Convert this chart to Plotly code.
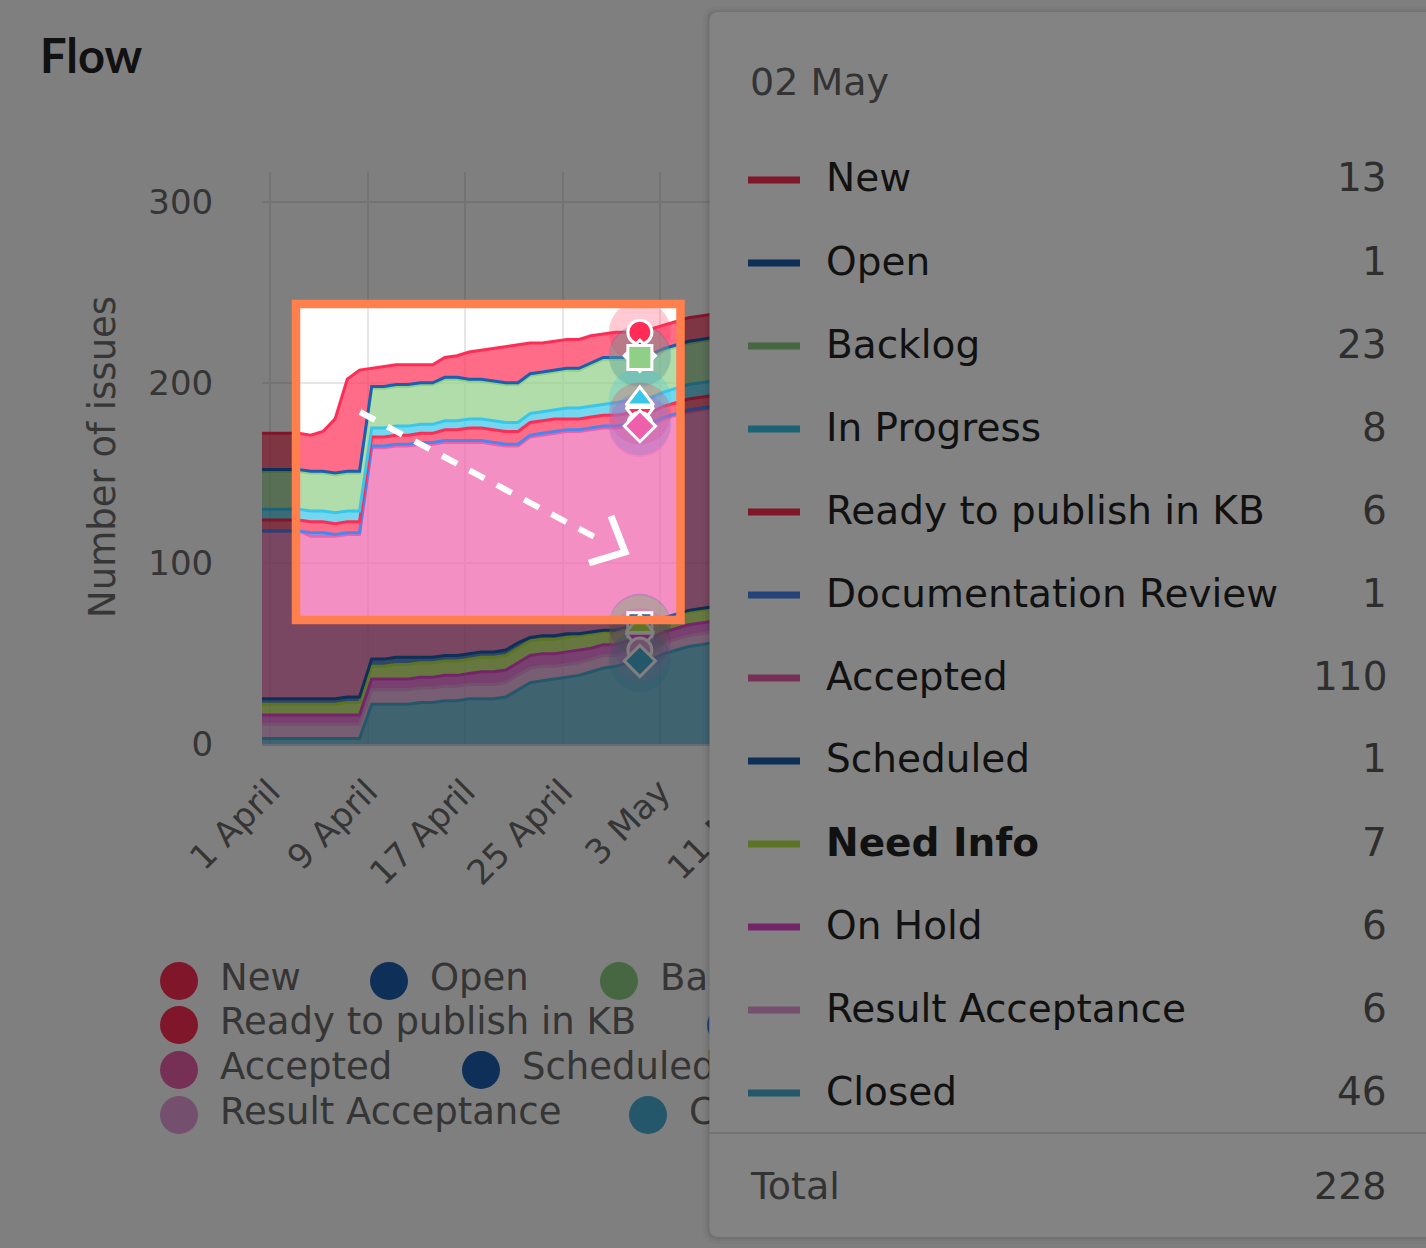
import pandas as pd
import plotly.graph_objects as go

W, H = 1426, 1248

# ---- data: number of issues per status, one value per day from 1 April ----
dates = pd.date_range("2023-04-01", periods=40, freq="D")

new = [20, 20, 20, 20, 20, 22, 30, 51, 56, 10, 11, 11, 11, 10, 10, 11, 12, 15, 16, 18,
       20, 21, 17, 16, 16, 16, 16, 15, 13, 14, 14, 13, 14, 13, 13, 13, 13, 13, 14, 14]
open_ = [1, 1, 1, 1, 1, 1, 1, 1, 1, 1, 1, 1, 1, 1, 1, 1, 1, 1, 1, 1,
         1, 1, 1, 1, 1, 1, 1, 1, 1, 1, 1, 1, 1, 1, 1, 1, 1, 1, 1, 1]
backlog = [21, 21, 21, 21, 21, 21, 21, 21, 21, 22, 22, 22, 22, 22, 22, 23, 23, 21, 21, 21,
           21, 21, 21, 21, 21, 21, 21, 23, 25, 24, 23, 23, 23, 23, 23, 23, 23, 23, 23, 23]
in_progress = [6, 6, 6, 6, 6, 6, 6, 6, 6, 5, 5, 5, 5, 5, 5, 5, 5, 5, 5, 5,
               5, 5, 5, 5, 5, 6, 6, 6, 6, 7, 7, 8, 8, 8, 8, 8, 8, 8, 8, 8]
ready_kb = [6, 6, 6, 6, 6, 6, 6, 6, 6, 5, 5, 5, 5, 5, 5, 6, 6, 7, 7, 7,
            7, 7, 7, 7, 7, 6, 6, 6, 6, 6, 6, 6, 6, 6, 6, 6, 6, 6, 6, 6]
doc_review = [0, 0, 0, 0, 2, 2, 1, 1, 1, 1, 1, 1, 1, 1, 1, 1, 1, 1, 1, 1,
              1, 1, 1, 1, 1, 1, 1, 1, 1, 1, 1, 1, 1, 1, 1, 1, 1, 1, 1, 1]
accepted = [93, 93, 93, 93, 90, 90, 90, 90, 90, 117, 117, 117, 117, 118, 118, 118, 118, 117, 116, 115,
            113, 109, 111, 111, 112, 112, 112, 112, 112, 112, 111, 110, 110, 110, 110, 110, 110, 110, 110, 110]
scheduled = [3, 3, 3, 3, 3, 3, 3, 3, 3, 4, 4, 4, 4, 3, 3, 3, 3, 3, 3, 3,
             3, 3, 2, 2, 2, 2, 1, 1, 1, 1, 1, 1, 1, 1, 1, 1, 1, 1, 1, 1]
need_info = [6, 6, 6, 6, 6, 6, 6, 7, 7, 7, 7, 8, 8, 8, 8, 8, 8, 8, 8, 8,
             8, 8, 8, 8, 8, 8, 8, 8, 7, 7, 7, 7, 7, 7, 7, 7, 7, 7, 7, 7]
on_hold = [5, 5, 5, 5, 5, 5, 5, 5, 5, 6, 6, 6, 6, 6, 6, 6, 6, 6, 7, 7,
           7, 7, 7, 7, 7, 7, 7, 6, 6, 6, 6, 6, 6, 6, 6, 6, 6, 6, 6, 6]
result_acceptance = [8, 8, 8, 8, 8, 8, 8, 8, 8, 8, 8, 8, 8, 8, 8, 8, 8, 8, 8, 8,
                     8, 8, 8, 8, 7, 7, 7, 7, 7, 6, 6, 6, 6, 6, 6, 6, 6, 6, 6, 6]
closed = [3, 3, 3, 3, 3, 3, 3, 3, 3, 22, 22, 22, 22, 23, 23, 24, 24, 25, 25, 25,
          26, 30, 34, 35, 36, 37, 38, 40, 42, 43, 45, 46, 47, 50, 52, 54, 55, 56, 56, 57]

series_names = ["New", "Open", "Backlog", "In Progress", "Ready to publish in KB",
                "Documentation Review", "Accepted", "Scheduled", "Need Info",
                "On Hold", "Result Acceptance", "Closed"]
values = dict(zip(series_names, [new, open_, backlog, in_progress, ready_kb, doc_review,
                                 accepted, scheduled, need_info, on_hold,
                                 result_acceptance, closed]))

tick_dates = ["2023-04-01", "2023-04-09", "2023-04-17", "2023-04-25", "2023-05-03",
              "2023-05-11", "2023-05-19", "2023-05-27", "2023-06-04", "2023-06-12"]
tick_text = ["1 April", "9 April", "17 April", "25 April", "3 May",
             "11 May", "19 May", "27 May", "4 June", "12 June"]
hover_day = "2023-05-02"
hover_label = "02 May"

# ---- styles ----
colors = {
    "New": (255, 45, 85),
    "Open": (26, 95, 176),
    "Backlog": (143, 207, 134),
    "In Progress": (56, 198, 234),
    "Ready to publish in KB": (255, 45, 85),
    "Documentation Review": (74, 134, 240),
    "Accepted": (238, 96, 170),
    "Scheduled": (26, 95, 176),
    "Need Info": (184, 232, 74),
    "On Hold": (232, 74, 208),
    "Result Acceptance": (232, 160, 220),
    "Closed": (74, 174, 212),
}
symbols = ["circle", "diamond", "square", "triangle-up", "triangle-down"]
FONT = "DejaVu Sans"
DIM = 0.5
TOOLTIP_LEFT = 709.5


def rgb(c, a=None):
    if a is None:
        return "rgb(%d,%d,%d)" % c
    return "rgba(%d,%d,%d,%s)" % (c[0], c[1], c[2], a)


def dim(c):
    return rgb(tuple(int(v * DIM) for v in c))


def px(x, y):
    # pixel position -> paper position (margins are zero)
    return x / W, 1 - y / H


def pt(x, y):
    a, b = px(x, y)
    return "%.5f,%.5f" % (a, b)


fig = go.Figure()

# stacked areas, Highcharts-like: first series on top
stack_order = series_names[::-1]
for name in stack_order:
    fig.add_trace(go.Scatter(
        x=dates, y=values[name], name=name, stackgroup="flow", mode="lines",
        line=dict(color=rgb(colors[name]), width=3),
        fillcolor=rgb(colors[name], 0.7), hoverinfo="skip", showlegend=False))

# hover markers for the highlighted day
hi = list(dates).index(pd.Timestamp(hover_day))
tops = {}
running = 0
for name in stack_order:
    running += values[name][hi]
    tops[name] = running

hx = [pd.Timestamp(hover_day)] * len(series_names)
hy = [tops[n] for n in series_names]
fig.add_trace(go.Scatter(
    x=hx, y=hy, mode="markers", hoverinfo="skip", showlegend=False,
    marker=dict(size=62, color=[rgb(colors[n], 0.25) for n in series_names], line=dict(width=0))))
fig.add_trace(go.Scatter(
    x=hx, y=hy, mode="markers", hoverinfo="skip", showlegend=False,
    marker=dict(size=24, symbol=[symbols[i % 5] for i in range(len(series_names))],
                color=[rgb(colors[n]) for n in series_names],
                line=dict(color="white", width=3))))

# legend drawn on a helper axis in pixel units; it is clipped where the tooltip starts
legend_rows = [["New", "Open", "Backlog", "In Progress"],
               ["Ready to publish in KB", "Documentation Review"],
               ["Accepted", "Scheduled", "Need Info", "On Hold"],
               ["Result Acceptance", "Closed"]]
legend_x = [[179, 389, 619, 900], [179, 726], [179, 481, 807, 1088], [179, 648]]
legend_y = [981, 1025, 1070, 1115]

lx, ly, lc = [], [], []
tx, ty, tn = [], [], []
for row, xs, y in zip(legend_rows, legend_x, legend_y):
    for name, x in zip(row, xs):
        lx.append(x)
        ly.append(y)
        lc.append(rgb(colors[name]))
        if x + 41 < TOOLTIP_LEFT:
            tx.append(x + 41)
            ty.append(y)
            tn.append(name)
fig.add_trace(go.Scatter(
    x=lx, y=ly, xaxis="x2", yaxis="y2", mode="markers", hoverinfo="skip", showlegend=False,
    marker=dict(size=38, color=lc, line=dict(width=0))))
fig.add_trace(go.Scatter(
    x=tx, y=ty, xaxis="x2", yaxis="y2", mode="text", text=tn,
    textposition="middle right", hoverinfo="skip", showlegend=False,
    textfont=dict(family=FONT, size=37, color="#6a6a6a")))

# ---- shapes: dim overlay with a spotlight hole, border, arrow, tooltip ----
hole = (296, 304, 680.5, 620)
overlay = ("M" + pt(0, 0) + " L" + pt(W, 0) + " L" + pt(W, H) + " L" + pt(0, H) + " Z"
           " M" + pt(hole[0], hole[1]) + " L" + pt(hole[0], hole[3]) + " L" + pt(hole[2], hole[3])
           + " L" + pt(hole[2], hole[1]) + " Z")
shapes = [dict(type="path", xref="paper", yref="paper", path=overlay,
               fillcolor="rgba(0,0,0,0.5)", line=dict(width=0), layer="above")]

x0, y0 = px(hole[0], hole[1])
x1, y1 = px(hole[2], hole[3])
shapes.append(dict(type="rect", xref="paper", yref="paper", x0=x0, y0=y0, x1=x1, y1=y1,
                   line=dict(color="#ff7f4d", width=8.5), fillcolor="rgba(0,0,0,0)", layer="above"))

ax0, ay0 = px(360, 412)
ax1, ay1 = px(600, 540)
shapes.append(dict(type="line", xref="paper", yref="paper", x0=ax0, y0=ay0, x1=ax1, y1=ay1,
                   line=dict(color="white", width=6, dash="17px,14px"), layer="above"))
shapes.append(dict(type="path", xref="paper", yref="paper",
                   path="M" + pt(611, 516) + " L" + pt(625, 552) + " L" + pt(589, 563),
                   line=dict(color="white", width=7), layer="above"))


def round_box(xa, ya, xb, yb, r):
    return ("M" + pt(xa + r, ya) + " L" + pt(xb, ya) + " L" + pt(xb, yb) + " L" + pt(xa + r, yb)
            + " Q" + pt(xa, yb) + " " + pt(xa, yb - r) + " L" + pt(xa, ya + r)
            + " Q" + pt(xa, ya) + " " + pt(xa + r, ya) + " Z")


tt = (TOOLTIP_LEFT, 12, 1446, 1237)
for grow, alpha in [(7, 0.025), (4, 0.035), (2, 0.05)]:
    shapes.append(dict(type="path", xref="paper", yref="paper",
                       path=round_box(tt[0] - grow, tt[1] - grow + 1, tt[2], tt[3] + grow, 9 + grow),
                       fillcolor="rgba(0,0,0,%s)" % alpha, line=dict(width=0), layer="above"))
shapes.append(dict(type="path", xref="paper", yref="paper", path=round_box(*tt, 9),
                   fillcolor="#838383", line=dict(width=0), layer="above"))
sx0, sy = px(tt[0], 1133)
shapes.append(dict(type="line", xref="paper", yref="paper", x0=sx0, x1=1, y0=sy, y1=sy,
                   line=dict(color="#747474", width=2), layer="above"))

annotations = []


def note(text, x, y, size, color, anchor="left", family=FONT, angle=0):
    a, b = px(x, y)
    annotations.append(dict(text=text, x=a, y=b, xref="paper", yref="paper", showarrow=False,
                            xanchor=anchor, yanchor="middle", textangle=angle,
                            font=dict(family=family, size=size, color=color)))


note("<b>Flow</b>", 38, 55, 47, "#111111", family="Lato")
note("Number of issues", 103, 457, 37, "#363636", anchor="center", angle=-90)

note(hover_label, 748, 82, 38, "#333333")
row_y0, row_step = 178, 83
for k, name in enumerate(series_names):
    y = row_y0 + row_step * k
    bx0, by = px(748, y + 2)
    bx1, _ = px(800, y + 2)
    shapes.append(dict(type="line", xref="paper", yref="paper", x0=bx0, x1=bx1, y0=by, y1=by,
                       line=dict(color=dim(colors[name]), width=7), layer="above"))
    label = "<b>%s</b>" % name if name == "Need Info" else name
    note(label, 824, y, 39, "#111111")
    note(str(values[name][hi]), 1389, y, 39, "#2e2e2e", anchor="right")
note("Total", 748, 1186, 38, "#333333")
note(str(sum(values[n][hi] for n in series_names)), 1389, 1186, 38, "#2e2e2e", anchor="right")

tick_positions = [pd.Timestamp(d) + pd.Timedelta(hours=16) for d in tick_dates]

fig.update_layout(
    width=W, height=H, margin=dict(l=0, r=0, t=0, b=0, pad=0, autoexpand=False),
    paper_bgcolor="white", plot_bgcolor="rgba(0,0,0,0)",
    showlegend=False, hovermode=False,
    shapes=shapes, annotations=annotations,
    xaxis=dict(type="date", domain=[262 / W, 1359 / W], range=[dates[0], pd.Timestamp("2023-06-30")],
               tickvals=tick_positions, ticktext=tick_text, tickangle=-45,
               ticks="outside", ticklen=12, tickcolor="rgba(0,0,0,0)",
               showgrid=True, gridcolor="#e6e6e6", gridwidth=2, automargin=False,
               showline=True, linecolor="#ccd6eb", linewidth=2, zeroline=False,
               tickfont=dict(family=FONT, size=34, color="#6a6a6a"), anchor="y"),
    yaxis=dict(domain=[1 - 744 / H, 1 - 172 / H], range=[0, 316.7], tickvals=[0, 100, 200, 300],
               ticks="outside", ticklen=41, tickcolor="rgba(0,0,0,0)", automargin=False,
               showgrid=True, gridcolor="#e6e6e6", gridwidth=2, zeroline=False, showline=False,
               tickfont=dict(family=FONT, size=34, color="#6a6a6a"), anchor="x"),
    xaxis2=dict(domain=[0, TOOLTIP_LEFT / W], range=[0, TOOLTIP_LEFT], visible=False,
                anchor="y2", automargin=False),
    yaxis2=dict(domain=[0, 1], range=[H, 0], visible=False, anchor="x2", automargin=False),
)

fig.write_html("out.html", config={"displayModeBar": False},
               post_script="document.body.style.margin = '0px';")
